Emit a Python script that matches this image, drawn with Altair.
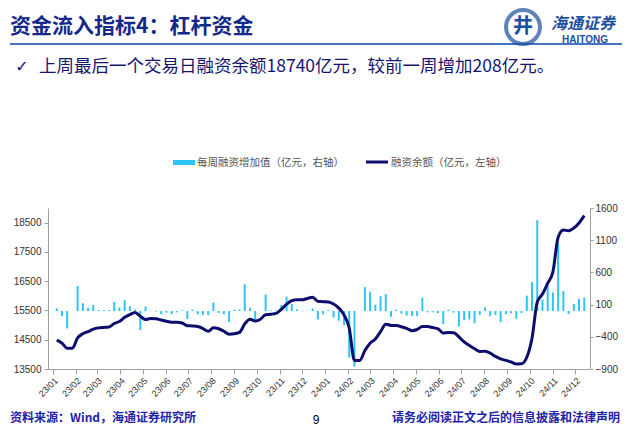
import altair as alt
import pandas as pd

# ---------------- data ----------------
week_ending = pd.date_range("2023-01-06", periods=102, freq="7D").strftime("%Y-%m-%dT00:00:00").tolist()

balance = [
    14485, 14385, 14210, 14210, 14560, 14705, 14775, 14860, 14905, 14920,
    14935, 15055, 15120, 15265, 15360, 15430, 15300, 15190, 15225, 15215,
    15175, 15130, 15100, 15100, 15070, 14980, 14970, 14950, 14880, 14790,
    14905, 14875, 14790, 14690, 14705, 14750, 15040, 15200, 15140, 15200,
    15355, 15370, 15400, 15540, 15710, 15835, 15865, 15865, 15910, 15950,
    15810, 15800, 15790, 15720, 15580, 15350, 14900, 13790, 13790, 14130,
    14380, 14525, 14775, 15030, 14990, 14985, 14945, 14885, 14810, 14850,
    14950, 14950, 14915, 14870, 14730, 14745, 14740, 14600, 14425, 14305,
    14190, 14095, 14110, 14040, 13930, 13845, 13795, 13740, 13675, 13680,
    13900, 14550, 15790, 16060, 16430, 16820, 18000, 18250, 18220, 18315,
    18490, 18740,
]

weekly_change = [
    42, -80, -270, 0, 390, 120, 50, 95, 15, 15,
    15, 140, 55, 170, 75, 25, -295, 70, 5, -10,
    -50, -25, -50, -20, 10, -125, 20, -50, -60, -65,
    130, -30, -50, -170, 20, 25, 415, 50, -130, 5,
    255, 10, 10, 95, 225, 110, 25, -5, 5, 40,
    -130, -50, 15, -100, -150, -215, -725, -865, 0, 370,
    300, 100, 230, 265, -90, 20, -40, -70, -75, -75,
    205, -20, -20, -30, -200, 20, -25, -240, -140, -130,
    -190, -60, 55, -80, -60, -170, -50, -35, -120, -30,
    240, 450, 1410, 180, 400, 290, 1060, 310, -45, 110,
    190, 208,
]

left_ticks = [13500, 14500, 15500, 16500, 17500, 18500]
right_ticks = [-900, -400, 100, 600, 1100, 1600]

title_text = "资金流入指标4：杠杆资金"
subtitle_text = "上周最后一个交易日融资余额18740亿元，较前一周增加208亿元。"
legend_bar_text = "每周融资增加值（亿元，右轴）"
legend_line_text = "融资余额（亿元，左轴）"
source_text = "资料来源：Wind，海通证券研究所"
disclaimer_text = "请务必阅读正文之后的信息披露和法律声明"
page_text = "9"
logo_cn = "海通证券"
logo_en = "HAITONG"

df = pd.DataFrame({"date": week_ending, "balance": balance, "change": weekly_change})
one = pd.DataFrame({"k": [0]})

NAVY = "#0d0d6e"
CYAN = "#2ec5f6"
GRAY = "#a0a0a0"
TITLE_BLUE = "#14288c"
FOOT_BLUE = "#2323a6"
LOGO_BLUE = "#1d4f9e"
CJK = "Noto Sans CJK SC"

x_enc = alt.X(
    "date:T",
    scale=alt.Scale(domain=[alt.DateTime(year=2023, month=1, date=1),
                            alt.DateTime(year=2024, month=12, date=14)]),
    axis=alt.Axis(format="%y/%m", tickCount={"interval": "month", "step": 1},
                  labelAngle=-45, title=None, labelFontSize=9, labelOverlap=False,
                  labelPadding=2),
)

bars = alt.Chart(df).mark_bar(size=2, color=CYAN).encode(
    x=x_enc,
    y=alt.Y("change:Q",
            scale=alt.Scale(domain=[-900, 1600], nice=False, zero=False),
            axis=alt.Axis(orient="right", values=right_ticks, title=None, format="d",
                          tickSize=3, labelPadding=2)),
)

line = alt.Chart(df).mark_line(color=NAVY, strokeWidth=3, interpolate="monotone").encode(
    x=x_enc,
    y=alt.Y("balance:Q",
            scale=alt.Scale(domain=[13500, 19000], nice=False, zero=False),
            axis=alt.Axis(orient="left", values=left_ticks, title=None, format="d",
                          tickSize=4, labelPadding=3)),
)


def label(text, x, y, **kw):
    return alt.Chart(one).mark_text(**kw).encode(
        x=alt.value(x), y=alt.value(y), text=alt.value(text))


title = label(title_text, -38, -181, align="left", baseline="middle", font=CJK,
              fontSize=21, fontWeight="bold", color=TITLE_BLUE)
header_rule = alt.Chart(one).mark_rule(color="#4472c4", strokeWidth=2).encode(
    x=alt.value(-38), x2=alt.value(574), y=alt.value(-164))
check = label("✓", -26, -141, align="center", baseline="middle", font="DejaVu Sans",
              fontSize=16, fontWeight="bold", color=NAVY)
subtitle = label(subtitle_text, -9, -141, align="left", baseline="middle", font=CJK,
                 fontSize=17.5, color="#16166e")

logo_circle = alt.Chart(one).mark_point(shape="circle", size=1150, filled=False,
                                        strokeWidth=4, color=LOGO_BLUE).encode(
    x=alt.value(475), y=alt.value(-181))
logo_mark = label("井", 475, -181, align="center", baseline="middle", font=CJK,
                  fontSize=20, fontWeight="bold", color=LOGO_BLUE)
logo_cn_t = label(logo_cn, 503, -184, align="left", baseline="middle", font=CJK,
                  fontSize=16, fontWeight="bold", fontStyle="italic", color=LOGO_BLUE)
logo_en_t = label(logo_en, 537, -168, align="center", baseline="middle",
                  font="Liberation Sans", fontSize=10, fontWeight="bold", color=LOGO_BLUE)

leg_rect = alt.Chart(one).mark_rect(color=CYAN).encode(
    x=alt.value(125), x2=alt.value(147), y=alt.value(-48), y2=alt.value(-43))
leg_t1 = label(legend_bar_text, 149, -45, align="left", baseline="middle", font=CJK,
               fontSize=10.5, color="#555555")
leg_line = alt.Chart(one).mark_rule(color=NAVY, strokeWidth=3).encode(
    x=alt.value(318), x2=alt.value(340), y=alt.value(-46))
leg_t2 = label(legend_line_text, 343, -45, align="left", baseline="middle", font=CJK,
               fontSize=10.5, color="#555555")

source = label(source_text, -38, 210, align="left", baseline="middle", font=CJK,
               fontSize=12, fontWeight="bold", color=FOOT_BLUE)
disclaimer = label(disclaimer_text, 572, 210, align="right", baseline="middle", font=CJK,
                   fontSize=12, fontWeight="bold", color=FOOT_BLUE)
page = label(page_text, 268, 212, align="center", baseline="middle",
             font="Liberation Sans", fontSize=12, color="#000000")

chart = alt.layer(
    bars, line, title, header_rule, check, subtitle, logo_circle, logo_mark,
    logo_cn_t, logo_en_t, leg_rect, leg_t1, leg_line, leg_t2, source, disclaimer, page,
).resolve_scale(y="independent").properties(
    width=542, height=161,
    padding={"left": 40, "top": 200, "right": 32, "bottom": 59},
    autosize=alt.AutoSizeParams(type="none"),
    background="white",
).configure_view(strokeWidth=0).configure_axis(
    grid=False, domainColor=GRAY, tickColor=GRAY, labelColor="#333333",
    labelFont="Liberation Sans", labelFontSize=10,
)

chart.save("out.html", embed_options={"renderer": "svg", "actions": False})
